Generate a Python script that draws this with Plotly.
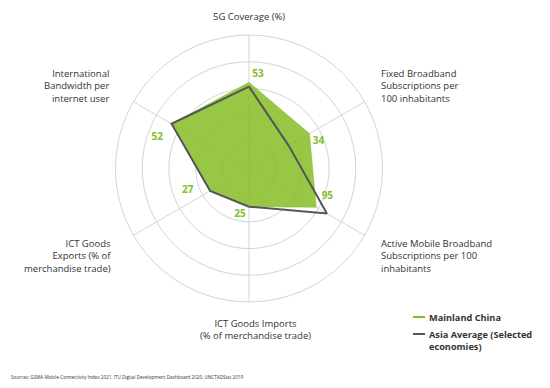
import plotly.graph_objects as go

categories = ["5G Coverage", "Fixed Broadband", "Active Mobile Broadband",
              "ICT Goods Imports", "ICT Goods Exports", "International Bandwidth"]
china_scores = [64.6, 52.3, 58.2, 28.6, 33.6, 67.0]
asia_scores = [61.3, 34.3, 67.4, 28.6, 33.6, 67.0]
china_labels = ["53", "34", "95", "25", "27", "52"]

GREEN = "#86BC25"
GRAY = "#53565A"
TXT = "#333333"
FONT = "Open Sans"

# label placement styling (per point text position and invisible marker size for offset)
label_positions = ["top right", "bottom right", "top right", "bottom left", "middle left", "bottom left"]
label_offsets = [3.5, 3.7, 7, 3.7, 25, 12]

fig = go.Figure()
fig.add_trace(go.Scatterpolar(
    r=china_scores + china_scores[:1], theta=categories + categories[:1],
    mode="lines", fill="toself", fillcolor="rgba(134,188,37,0.85)",
    line=dict(color="rgba(134,188,37,0.85)", width=0.5), showlegend=False, hoverinfo="skip"))
fig.add_trace(go.Scatterpolar(
    r=asia_scores + asia_scores[:1], theta=categories + categories[:1],
    mode="lines", line=dict(color=GRAY, width=2), showlegend=False, hoverinfo="skip"))
fig.add_trace(go.Scatterpolar(
    r=china_scores, theta=categories, mode="markers+text", text=china_labels,
    textposition=label_positions,
    marker=dict(size=label_offsets, opacity=0, color=GREEN),
    textfont=dict(family=FONT, size=10, color=GREEN, weight="bold"),
    showlegend=False, hoverinfo="skip"))

cx, cy, R = 249, 168.5, 133.5
W, H = 550, 388
fig.update_layout(
    width=W, height=H, margin=dict(l=0, r=0, t=0, b=0),
    paper_bgcolor="white", plot_bgcolor="white",
    font=dict(family=FONT, size=10, color=TXT),
    polar=dict(
        domain=dict(x=[(cx - R) / W, (cx + R) / W], y=[(H - cy - R) / H, (H - cy + R) / H]),
        bgcolor="white",
        angularaxis=dict(rotation=90, direction="clockwise", showticklabels=False,
                         ticks="", showline=True, linecolor="#d4d4d4", linewidth=1,
                         gridcolor="#d4d4d4", gridwidth=1),
        radialaxis=dict(range=[0, 100], tickvals=[20, 40, 60, 80, 100],
                        showticklabels=False, ticks="", showline=False,
                        gridcolor="#d4d4d4", gridwidth=1),
    ),
)

def ann(x, y, text, xanchor, size=9.5, color=TXT, bold=False, align=None):
    fig.add_annotation(x=x / W, y=1 - y / H, xref="paper", yref="paper", text=text,
                       showarrow=False, xanchor=xanchor, yanchor="top",
                       align=align or xanchor, borderpad=0,
                       font=dict(family=FONT, size=size, color=color,
                                 weight="bold" if bold else "normal"))

ann(249, 9, "5G Coverage (%)", "center")
ann(380, 66, "Fixed Broadband<br>Subscriptions per<br>100 inhabitants", "left")
ann(380, 236, "Active Mobile Broadband<br>Subscriptions per 100<br>inhabitants", "left")
ann(255, 316, "ICT Goods Imports<br>(% of merchandise trade)", "center")
ann(112, 236, "ICT Goods<br>Exports (% of<br>merchandise trade)", "right")
ann(110, 66, "International<br>Bandwidth per<br>internet user", "right")

# legend
ann(428, 310, "Mainland China", "left", size=9.2, bold=True)
ann(428, 327, "Asia Average (Selected<br>economies)", "left", size=9.2, bold=True)
fig.add_shape(type="line", xref="paper", yref="paper", x0=413 / W, x1=425 / W,
              y0=1 - 317 / H, y1=1 - 317 / H, line=dict(color=GREEN, width=2))
fig.add_shape(type="line", xref="paper", yref="paper", x0=413 / W, x1=425 / W,
              y0=1 - 334 / H, y1=1 - 334 / H, line=dict(color=GRAY, width=2))

ann(10, 373, "Sources: GSMA Mobile Connectivity Index 2021, ITU Digital Development Dashboard 2020, UNCTADStat 2019",
    "left", size=4.6)

fig.write_html("out.html", config={"displayModeBar": False},
               post_script="document.body.style.margin='0';")
